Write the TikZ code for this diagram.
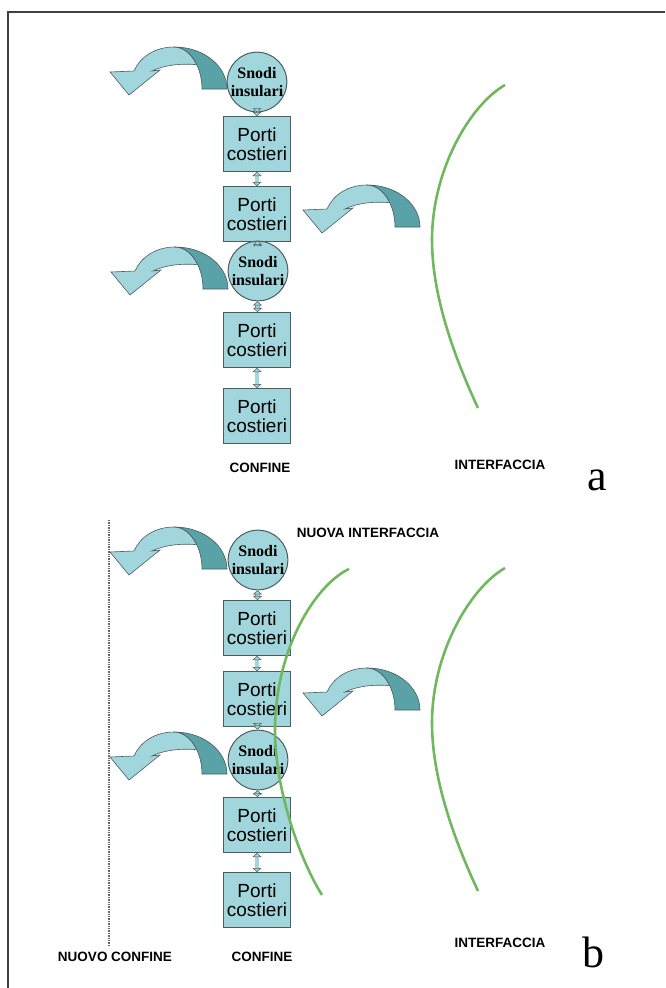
\documentclass[tikz,border=0pt]{standalone}
\usepackage{fontspec}
\setmainfont{Liberation Sans}
\newfontfamily\snodifont{Liberation Serif}
\usetikzlibrary{arrows.meta}
\definecolor{cyanlight}{RGB}{160,214,220}
\definecolor{cyandark}{RGB}{88,162,168}
\definecolor{rimgray}{RGB}{78,92,95}
\definecolor{arcgreen}{RGB}{112,184,96}

\begin{document}
\begin{tikzpicture}[x=1pt, y=-1pt,
    porto/.style={draw=rimgray, line width=1pt, fill=cyanlight, minimum width=67pt, minimum height=55pt,
        inner sep=0pt, align=center, font=\fontsize{19}{18.5}\selectfont},
    snodo/.style={circle, draw=rimgray, line width=1pt, fill=cyanlight, minimum size=50pt, inner sep=0pt,
        align=center, font=\snodifont\bfseries\fontsize{16}{17.5}\selectfont},
    link/.style={draw=rimgray, line width=0.5pt, double=cyanlight, double distance=3.5pt,
        {Triangle[length=4pt, width=9pt, fill=cyanlight]}-{Triangle[length=4pt, width=9pt, fill=cyanlight]}},
    tag/.style={font=\bfseries\fontsize{13.5}{14}\selectfont},
    letter/.style={font=\snodifont\fontsize{44}{44}\selectfont, inner sep=0pt},
    interfaccia/.style={arcgreen, line width=2.6pt},
    bent/.pic={
        \filldraw[draw=rimgray, line width=0.6pt, fill=cyanlight] (0,0) -- (19,23) -- (50,-2) -- (42,-1)
            .. controls (52,-6) and (68,-9) .. (86.75,-7.3) .. controls (81.76,-17.8) and (73.6,-25) .. (64,-25)
            .. controls (45,-25) and (30,-15) .. (24,-1) -- cycle;
        \filldraw[draw=rimgray, line width=0.6pt, fill=cyandark] (64,-25) .. controls (95,-25) and (117,-5) .. (117,17)
            -- (92,17) .. controls (92,-5) and (80,-25) .. (64,-25) -- cycle;
    }]
\useasboundingbox (0,0) rectangle (665,988);
% Frame
\draw[line width=1.5pt, black!75] (665,12) -- (8,12) -- (8,988);

% Schema a
\node[snodo] (s1) at (257,82) {Snodi\\insulari};
\node[porto] (p1) at (257,144) {Porti\\costieri};
\node[porto] (p2) at (257,214) {Porti\\costieri};
\node[snodo] (s2) at (258,271) {Snodi\\insulari};
\node[porto] (p3) at (257,340) {Porti\\costieri};
\node[porto] (p4) at (257,416) {Porti\\costieri};
\foreach \a/\b in {s1/p1, p1/p2, p2/s2, s2/p3, p3/p4}
    \draw[link] (\a) -- (\b);
\pic at (110,72) {bent};
\pic at (111,272) {bent};
\pic at (303,210) {bent};
\draw[interfaccia] (505,85) .. controls (470,105) and (432,170) .. (432,240)
    .. controls (432,300) and (458,365) .. (478,408);
\node[tag] (c1) at (260,468) {CONFINE};
\node[tag] (i1) at (500,465) {INTERFACCIA};
\node[letter, anchor=base] (la) at (597,490) {a};

% Schema b
\node[snodo] (s3) at (258,560) {Snodi\\insulari};
\node[porto] (p5) at (257,628) {Porti\\costieri};
\node[porto] (p6) at (257,699) {Porti\\costieri};
\node[snodo] (s4) at (258,760) {Snodi\\insulari};
\node[porto] (p7) at (257,825) {Porti\\costieri};
\node[porto] (p8) at (257,900) {Porti\\costieri};
\foreach \a/\b in {s3/p5, p5/p6, p6/s4, s4/p7, p7/p8}
    \draw[link] (\a) -- (\b);
\pic at (110,552) {bent};
\pic at (110,757) {bent};
\pic at (303,693) {bent};
% New and old interface
\draw[interfaccia] (349,569) .. controls (315,585) and (275,650) .. (275,730)
    .. controls (275,790) and (300,860) .. (322,895);
\draw[interfaccia] (505,568) .. controls (470,588) and (432,653) .. (432,723)
    .. controls (432,783) and (458,848) .. (478,891);
\draw[black!60, line width=1.4pt, densely dotted] (109,520) -- (109,945);
\node[tag] (ni) at (368,533) {NUOVA INTERFACCIA};
\node[tag] (nc) at (115,957) {NUOVO CONFINE};
\node[tag] (c2) at (262,957) {CONFINE};
\node[tag] (i2) at (500,943) {INTERFACCIA};
\node[letter, anchor=base] (lb) at (593,967) {b};
\end{tikzpicture}
\end{document}
